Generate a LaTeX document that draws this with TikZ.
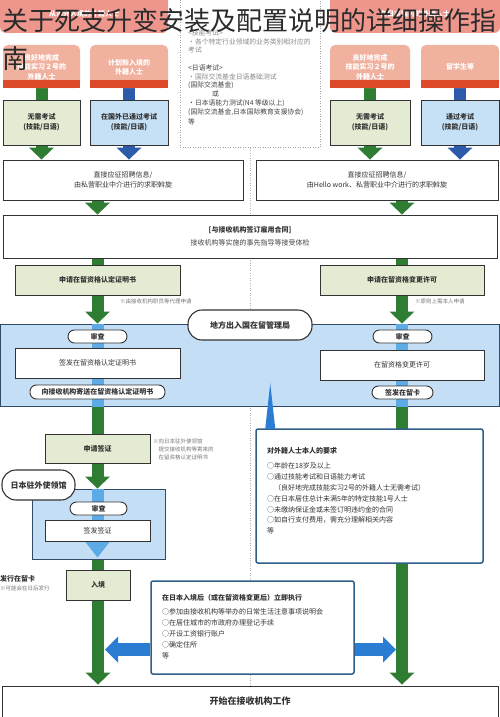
\documentclass[tikz,border=0pt]{standalone}
\usepackage{fontspec}
\setmainfont{Noto Sans CJK SC}
\usetikzlibrary{arrows.meta,calc}
\definecolor{txt}{HTML}{333333}
\definecolor{bd}{HTML}{333333}
\definecolor{headpink}{HTML}{EE958C}
\definecolor{salmon}{HTML}{F1B19F}
\definecolor{redstrip}{HTML}{DD4A2A}
\definecolor{lgreen}{HTML}{E3ECD2}
\definecolor{lblue}{HTML}{C6E1F6}
\definecolor{gr}{HTML}{2F7D33}
\definecolor{dblue}{HTML}{2C5BA9}
\definecolor{regblue}{HTML}{C4DFF5}
\definecolor{regbd}{HTML}{2F4B66}
\definecolor{stripblue}{HTML}{5CAAE6}
\definecolor{bigblue}{HTML}{2B7CD3}
\definecolor{reqbd}{HTML}{2E5F8A}
\definecolor{note}{HTML}{777777}
\definecolor{lgray}{HTML}{8A8A8A}
\definecolor{dgray}{HTML}{444444}
\definecolor{titlec}{HTML}{2B2B2B}
\pgfdeclarelayer{back}
\pgfdeclarelayer{mid}
\pgfsetlayers{back,mid,main}
\begin{document}
\begin{tikzpicture}[x=1pt,y=-1pt,
  every node/.style={inner sep=0pt, text=txt, font=\fontsize{7}{9.5}\selectfont},
  divider/.style={draw=gray!60, line width=0.8pt, dash pattern=on 1pt off 1.5pt},
  headbox/.style={fill=headpink, rounded corners=6pt, text=white, font=\fontsize{7}{9}\selectfont\bfseries},
  salbox/.style={fill=salmon, rounded corners=5pt},
  wtxt/.style={text=white, align=center, font=\fontsize{7}{9.5}\selectfont\bfseries},
  box/.style={draw=bd, line width=0.9pt, fill=white, align=center, font=\fontsize{7}{10}\selectfont\bfseries},
  gbox/.style={box, fill=lgreen},
  bbox/.style={box, fill=lblue},
  pill/.style={box, rounded corners=6.5pt},
  bigpill/.style={box, rounded corners=14pt, line width=1.1pt, font=\fontsize{8}{10}\selectfont\bfseries},
  region/.style={draw=regbd, line width=1pt, fill=regblue},
  infobox/.style={draw=gray!70, line width=0.8pt, dash pattern=on 1pt off 1.5pt},
  infotxt/.style={anchor=west, text=dgray, font=\fontsize{6.8}{9}\selectfont},
  notetxt/.style={anchor=west, text=note, font=\fontsize{5.5}{8}\selectfont, align=left},
  card/.style={draw=reqbd, line width=1.5pt, fill=white, rounded corners=2pt},
  cardtxt/.style={anchor=west, font=\fontsize{7}{10.8}\selectfont},
  stub/.style={line width=12pt},
  gbar/.style={draw=gr, line width=12pt},
  garrow/.style={draw=gr, line width=12pt, -{Triangle[width=25pt,length=12pt,line width=0pt]}},
  darrow/.style={draw=dblue, line width=12pt, -{Triangle[width=25pt,length=12pt,line width=0pt]}},
  sbar/.style={draw=stripblue, line width=12pt},
  sarrow/.style={draw=stripblue, line width=12pt, -{Triangle[width=25pt,length=16pt,line width=0pt]}},
  barrow/.style={draw=bigblue, line width=13pt, -{Triangle[width=26pt,length=13pt,line width=0pt]}}
]
\useasboundingbox (0,0) rectangle (500,717);

% ---------- top headers ----------
\node[headbox, minimum width=168pt, minimum height=38pt] (hL) at (84,14) {从海外入境的外籍人士};
\node[headbox, minimum width=170pt, minimum height=38pt] (hR) at (415,14) {在日本国内的外籍人士};

% ---------- exam info (dotted) ----------
\node[infobox, fill=white, minimum width=140pt, minimum height=150pt] (info) at (250,72) {};
\node[infotxt, text=lgray] (i1) at (188,33) {<技能考试>};
\node[infotxt, text=lgray] (i2) at (188,41.5) {・各个特定行业领域的业务类别相对应的};
\node[infotxt, text=lgray] (i3) at (188,50) {考试};
\node[infotxt] (i4) at (188,68) {<日语考试>};
\node[infotxt, text=lgray] (i5) at (188,77) {・国际交流基金日语基础测试};
\node[infotxt] (i6) at (188,85.5) {(国际交流基金)};
\node[infotxt] (i7) at (212,94) {或};
\node[infotxt] (i8) at (188,103) {・日本语能力测试(N4 等级以上)};
\node[infotxt] (i9) at (188,112) {(国际交流基金,日本国际教育支援协会)};
\node[infotxt] (i10) at (188,121.5) {等};

% ---------- second row (who) ----------
\node[salbox, minimum width=77pt, minimum height=43pt] (sA) at (41.5,66.5) {};
\node[salbox, minimum width=78pt, minimum height=43pt] (sB) at (129,66.5) {};
\node[salbox, minimum width=80pt, minimum height=43pt] (sC) at (370,66.5) {};
\node[salbox, minimum width=78pt, minimum height=43pt] (sD) at (460,66.5) {};
\foreach \b in {sA,sB,sC,sD}{
  \fill[redstrip] ($(\b.south west)+(0,-8)$) rectangle (\b.south east);
}
\node[wtxt] (tA) at (41.5,67) {良好地完成\\技能实习２号的\\外籍人士};
\node[wtxt] (tB) at (129,67.5) {计划新入境的\\外籍人士};
\node[wtxt] (tC) at (370,67) {良好地完成\\技能实习２号的\\外籍人士};
\node[wtxt] (tD) at (460,67) {留学生等};

% ---------- exam boxes ----------
\node[gbox, minimum width=77pt, minimum height=45pt] (eA) at (41.5,122.5) {无需考试\\(技能/日语)};
\node[bbox, minimum width=78pt, minimum height=45pt] (eB) at (129,122.5) {在国外已通过考试\\(技能/日语)};
\node[gbox, minimum width=80pt, minimum height=45pt] (eC) at (370,122.5) {无需考试\\(技能/日语)};
\node[bbox, minimum width=78pt, minimum height=45pt] (eD) at (460,122.5) {通过考试\\(技能/日语)};

% ---------- job search ----------
\node[box, font=\fontsize{7}{10}\selectfont, minimum width=240pt, minimum height=40pt] (jobL) at (123,180) {直接应征招聘信息/\\由私营职业中介进行的求职斡旋};
\node[box, font=\fontsize{7}{10}\selectfont, minimum width=242pt, minimum height=40pt] (jobR) at (377,180) {直接应征招聘信息/\\由Hello work、私营职业中介进行的求职斡旋};

% ---------- contract ----------
\node[box, font=\fontsize{7}{13}\selectfont, minimum width=494pt, minimum height=43pt] (con) at (250,236.5) {\textbf{[与接收机构签订雇用合同]}\\{\color{dgray}接收机构等实施的事先指导等接受体检}};

% ---------- applications ----------
\node[gbox, minimum width=165pt, minimum height=30pt] (appL) at (97.5,280) {申请在留资格认定证明书};
\node[gbox, minimum width=164pt, minimum height=30pt] (appR) at (402,280) {申请在留资格变更许可};
\node[notetxt] (nL) at (120,301) {※由接收机构职员等代理申请};
\node[notetxt] (nR) at (415,301) {※原则上需本人申请};

% ---------- regional bureau ----------
\begin{pgfonlayer}{back}
\fill[white] (0,0) rectangle (500,717);
\coordinate (dvT) at (250,0);
\coordinate (dvB) at (250,686);
\draw[divider] (dvT) -- (dvB);
\node[region, minimum width=499pt, minimum height=82pt] (reg) at (250,365) {};
\node[region, minimum width=133pt, minimum height=70pt] (cons) at (98.5,524) {};
\end{pgfonlayer}
\node[bigpill, minimum width=124pt, minimum height=30pt] (regl) at (250,325) {地方出入国在留管理局};
\node[pill, minimum width=59pt, minimum height=13pt] (rvL) at (97.5,336.5) {审查};
\node[box, font=\fontsize{7}{10}\selectfont, minimum width=165pt, minimum height=30pt] (issL) at (97.5,363) {签发在留资格认定证明书};
\node[pill, minimum width=135pt, minimum height=14pt] (sendL) at (97.5,392) {向接收机构寄送在留资格认定证明书};
\node[pill, minimum width=59pt, minimum height=13pt] (rvR) at (402.5,336.5) {审查};
\node[box, font=\fontsize{7}{10}\selectfont, minimum width=164pt, minimum height=30pt] (issR) at (402,365) {在留资格变更许可};
\node[pill, minimum width=61pt, minimum height=13pt] (cardR) at (402.5,392.5) {签发在留卡};

% ---------- visa ----------
\node[gbox, minimum width=105pt, minimum height=29pt] (visa) at (97.5,448.5) {申请签证};
\node[notetxt] (nV) at (153,449) {※向日本驻外使领馆\\\phantom{※}提交接收机构等寄来的\\\phantom{※}在留资格认定证明书};
\node[bigpill, minimum width=73pt, minimum height=30pt] (consl) at (38.5,485) {日本驻外使领馆};
\node[pill, minimum width=57pt, minimum height=13pt] (rvV) at (98.5,508.5) {审查};
\node[box, font=\fontsize{7}{10}\selectfont, minimum width=105pt, minimum height=21pt] (issV) at (97.5,530.5) {签发签证};

% ---------- entry ----------
\node[gbox, minimum width=64pt, minimum height=30pt] (entry) at (98,585) {入境};
\node[anchor=west, font=\fontsize{7}{9}\selectfont\bfseries] (cardL) at (0,579) {发行在留卡};
\node[notetxt] (cardN) at (0,588) {※可能会在日后发行};

% ---------- requirements ----------
\node[card, minimum width=227pt, minimum height=134pt] (req) at (369.5,496) {};
\fill[bigblue] ($(req.north west)+(10,0.5)$) -- ($(req.north west)+(20,0.5)$) -- ($(req.north west)+(15,-45)$) -- cycle;
\node[cardtxt, font=\fontsize{7}{10}\selectfont\bfseries] (reqT) at (267,451) {对外籍人士本人的要求};
\node[cardtxt] (r1) at (267,466) {○年龄在18岁及以上};
\node[cardtxt] (r2) at (267,477) {○通过技能考试和日语能力考试};
\node[cardtxt] (r3) at (274,488) {（良好地完成技能实习2号的外籍人士无需考试）};
\node[cardtxt] (r4) at (267,498.5) {○在日本居住总计未满5年的特定技能1号人士};
\node[cardtxt] (r5) at (267,509.5) {○未缴纳保证金或未签订明违约金的合同};
\node[cardtxt] (r6) at (267,520) {○如自行支付费用，需充分理解相关内容};
\node[cardtxt] (r7) at (267,531) {等};

% ---------- after entry ----------
\node[card, minimum width=203pt, minimum height=93pt] (life) at (252.5,627.5) {};
\node[cardtxt, font=\fontsize{7}{10}\selectfont\bfseries] (lifeT) at (162,598) {在日本入境后（或在留资格变更后）立即执行};
\node[cardtxt] (l1) at (162,612) {○参加由接收机构等举办的日常生活注意事项说明会};
\node[cardtxt] (l2) at (162,623) {○在居住城市的市政府办理登记手续};
\node[cardtxt] (l3) at (162,634) {○开设工资银行账户};
\node[cardtxt] (l4) at (162,645) {○确定住所};
\node[cardtxt] (l5) at (162,656) {等};

% ---------- start work ----------
\node[box, font=\fontsize{9}{11}\selectfont\bfseries, minimum width=496pt, minimum height=31pt] (start) at (250,701.5) {开始在接收机构工作};

% ---------- connectors ----------
\begin{pgfonlayer}{mid}
\draw[stub, gr] (sA.south) -- (eA.north);
\draw[stub, dblue] (sB.south) -- (eB.north);
\draw[stub, gr] (sC.south) -- (eC.north);
\draw[stub, dblue] (sD.south) -- (eD.north);
\draw[garrow] (eA.south) -- (eA.south |- jobL.north);
\draw[darrow] (eB.south) -- (eB.south |- jobL.north);
\draw[garrow] (eC.south) -- (eC.south |- jobR.north);
\draw[darrow] (eD.south) -- (eD.south |- jobR.north);
\draw[garrow] (jobL.south -| appL.north) -- (con.north -| appL.north);
\draw[garrow] (jobR.south -| appR.north) -- (con.north -| appR.north);
% left chain
\draw[gbar] (con.south -| appL.north) -- (appL.north);
\draw[garrow] (appL.south) -- (appL.south |- reg.north);
\draw[sbar] (appL.south |- reg.north) -- (appL.south |- reg.south);
\draw[gbar] (reg.south -| visa.north) -- (visa.north);
\draw[garrow] (visa.south) -- (visa.south |- cons.north);
\draw[sarrow] (visa.south |- cons.north) -- ($(visa.south |- cons.south)+(0,-2)$);
\draw[gbar] (cons.south -| entry.north) -- (entry.north);
\draw[garrow] (entry.south) -- ($(entry.south |- start.north)+(0,-1)$);
% right chain
\draw[gbar] (con.south -| appR.north) -- (appR.north);
\draw[garrow] (appR.south) -- (appR.south |- reg.north);
\draw[sbar] (appR.south |- reg.north) -- (appR.south |- reg.south);
\draw[garrow] (appR.south |- reg.south) -- ($(appR.south |- start.north)+(0,-1)$);
\end{pgfonlayer}
\draw[barrow] ($(life.west)+(0,22)$) -- ($(life.west -| entry.south)+(7,22)$);
\draw[barrow] ($(life.east)+(0,22)$) -- ($(life.east -| appR.south)+(-6,22)$);

% ---------- overlaid title ----------
\node[anchor=base west, text=titlec, font=\fontsize{26}{38}\selectfont] (title1) at (2,31) {关于死支升变安装及配置说明的详细操作指};
\node[anchor=base west, text=titlec, font=\fontsize{26}{38}\selectfont] (title2) at (2,69) {南};
\end{tikzpicture}
\end{document}
